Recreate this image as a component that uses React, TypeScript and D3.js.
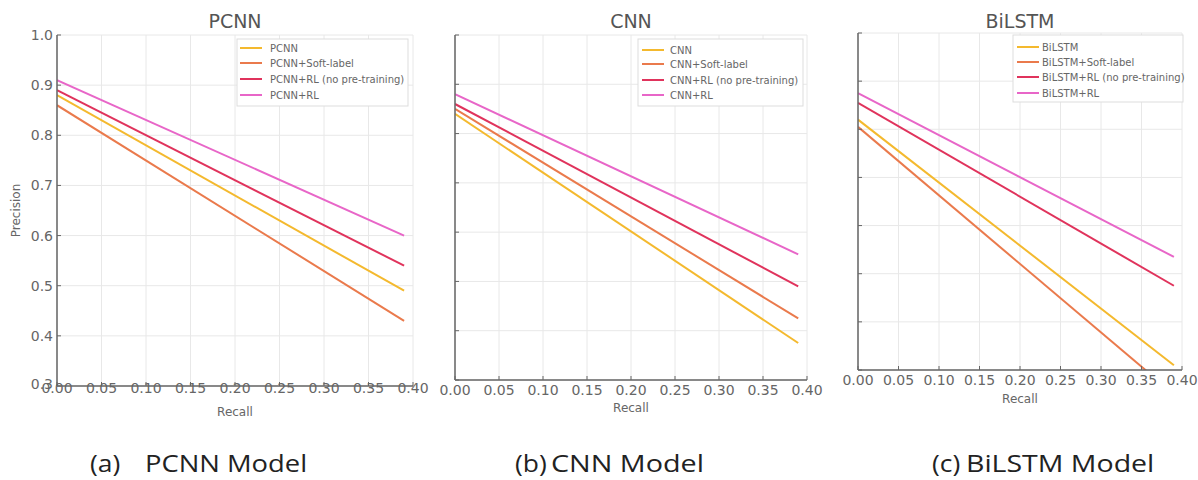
import React from "react";
import * as d3 from "d3";

const recall = [0, 0.39];
const xTicks = [0, 0.05, 0.1, 0.15, 0.2, 0.25, 0.3, 0.35, 0.4];
const yTicks = [0.3, 0.4, 0.5, 0.6, 0.7, 0.8, 0.9, 1.0];
const seriesSuffix = ["", "+Soft-label", "+RL (no pre-training)", "+RL"];
const seriesColors = ["#f4b92e", "#ea7a4c", "#e0335c", "#e866c8"];

const pcnnBase = [0.88, 0.49];
const pcnnSoft = [0.86, 0.43];
const pcnnNoPre = [0.89, 0.54];
const pcnnRL = [0.91, 0.6];

const cnnBase = [0.84, 0.375];
const cnnSoft = [0.85, 0.425];
const cnnNoPre = [0.86, 0.49];
const cnnRL = [0.88, 0.555];

const bilstmBase = [0.82, 0.31];
const bilstmSoft = [0.805, 0.25];
const bilstmNoPre = [0.855, 0.475];
const bilstmRL = [0.875, 0.535];

const models = ["PCNN", "CNN", "BiLSTM"];
const captionTags = ["(a)", "(b)", "(c)"];
const captionNames = ["PCNN Model", "CNN Model", "BiLSTM Model"];
const modelData = [
  [pcnnBase, pcnnSoft, pcnnNoPre, pcnnRL],
  [cnnBase, cnnSoft, cnnNoPre, cnnRL],
  [bilstmBase, bilstmSoft, bilstmNoPre, bilstmRL],
];

const layouts = [
  { x0: 57, x1: 413, yTop: 35, yBot: 386, showY: true, tickY: 393, labY: 416, titleY: 28,
    leg: { x: 237, y: 39, w: 171, h: 67, lx: 240, tx: 270, rows: [48, 63, 79, 95] },
    cap: { tagX: 90, nameX: 145, nameS: 1.19 } },
  { x0: 455, x1: 807, yTop: 35, yBot: 380, showY: false, tickY: 395, labY: 412, titleY: 28,
    leg: { x: 638, y: 39, w: 165, h: 67, lx: 642, tx: 670, rows: [50, 64, 80, 95] },
    cap: { tagX: 515, nameX: 551, nameS: 1.25 } },
  { x0: 858, x1: 1182, yTop: 33, yBot: 370, showY: false, tickY: 385, labY: 403, titleY: 28,
    leg: { x: 1013, y: 35, w: 170, h: 67, lx: 1017, tx: 1042, rows: [47, 62, 77, 93] },
    cap: { tagX: 932, nameX: 966, nameS: 1.24 } },
];

const tickFont = "DejaVu Sans, sans-serif";
const capFont = "Open Sans, sans-serif";

function Panel({ idx }: { idx: number }) {
  const L = layouts[idx];
  const name = models[idx];
  const data = modelData[idx];
  const x = d3.scaleLinear().domain([0, 0.4]).range([L.x0, L.x1]);
  const y = d3.scaleLinear().domain([0.3, 1.0]).range([L.yBot, L.yTop]);
  const line = d3
    .line<number>()
    .x((_, i) => x(recall[i]))
    .y((v) => y(v));
  const clipId = `clip${idx}`;
  return (
    <g>
      <defs>
        <clipPath id={clipId}>
          <rect x={L.x0} y={L.yTop} width={L.x1 - L.x0} height={L.yBot - L.yTop} />
        </clipPath>
      </defs>
      {xTicks.map((t) => (
        <line key={"gx" + t} x1={x(t)} x2={x(t)} y1={L.yBot} y2={L.yTop} stroke="#e8e8e8" strokeWidth={1} />
      ))}
      {yTicks.map((t) => (
        <line key={"gy" + t} x1={L.x0} x2={L.x1} y1={y(t)} y2={y(t)} stroke="#e8e8e8" strokeWidth={1} />
      ))}
      <g clipPath={`url(#${clipId})`}>
        {data.map((s, i) => (
          <path key={i} d={line(s) || ""} fill="none" stroke={seriesColors[i]} strokeWidth={2} />
        ))}
      </g>
      <line x1={L.x0} x2={L.x0} y1={L.yBot} y2={L.yTop} stroke="#666" strokeWidth={1.5} />
      <line x1={L.x0} x2={L.x1} y1={L.yBot} y2={L.yBot} stroke="#666" strokeWidth={1.5} />
      {xTicks.map((t) => (
        <line key={"tx" + t} x1={x(t)} x2={x(t)} y1={L.yBot} y2={L.yBot - 4} stroke="#666" strokeWidth={1} />
      ))}
      {yTicks.map((t) => (
        <line key={"ty" + t} x1={L.x0} x2={L.x0 + 4} y1={y(t)} y2={y(t)} stroke="#666" strokeWidth={1} />
      ))}
      {xTicks.map((t) => (
        <text key={"lx" + t} x={x(t)} y={L.tickY} textAnchor="middle" fontFamily={tickFont} fontSize={14} fill="#666">
          {d3.format(".2f")(t)}
        </text>
      ))}
      {L.showY &&
        yTicks.map((t) => (
          <text key={"ly" + t} x={L.x0 - 4} y={y(t) + (t === 0.3 ? 3 : 5)} textAnchor="end" fontFamily={tickFont} fontSize={14} fill="#666">
            {d3.format(".1f")(t)}
          </text>
        ))}
      <text x={(L.x0 + L.x1) / 2} y={L.labY} textAnchor="middle" fontFamily={tickFont} fontSize={12} fill="#666">
        Recall
      </text>
      {L.showY && (
        <text transform={`translate(20,${(L.yTop + L.yBot) / 2}) rotate(-90)`} textAnchor="middle" fontFamily={tickFont} fontSize={12} fill="#666">
          Precision
        </text>
      )}
      <text x={(L.x0 + L.x1) / 2} y={L.titleY} textAnchor="middle" fontFamily={tickFont} fontSize={19} fill="#555">
        {name}
      </text>
      <rect x={L.leg.x} y={L.leg.y} width={L.leg.w} height={L.leg.h} fill="#fff" stroke="#ddd" strokeWidth={1} />
      {seriesSuffix.map((suf, i) => (
        <g key={"lg" + i}>
          <line x1={L.leg.lx} x2={L.leg.lx + 22} y1={L.leg.rows[i]} y2={L.leg.rows[i]} stroke={seriesColors[i]} strokeWidth={2} />
          <text x={L.leg.tx} y={L.leg.rows[i] + 3.5} fontFamily={tickFont} fontSize={10} fill="#666">
            {name + suf}
          </text>
        </g>
      ))}
      <text transform={`translate(${L.cap.tagX},472) scale(1.15,1)`} fontFamily={capFont} fontSize={23} fill="#222">
        {captionTags[idx]}
      </text>
      <text transform={`translate(${L.cap.nameX},472) scale(${L.cap.nameS},1)`} fontFamily={capFont} fontSize={23} fill="#222">
        {captionNames[idx]}
      </text>
    </g>
  );
}

export default function App() {
  return (
    <svg width={1198} height={480} style={{ position: "absolute", left: 0, top: 0, background: "#fff" }}>
      <rect width={1198} height={480} fill="#fff" />
      {models.map((_, i) => (
        <Panel key={i} idx={i} />
      ))}
    </svg>
  );
}
